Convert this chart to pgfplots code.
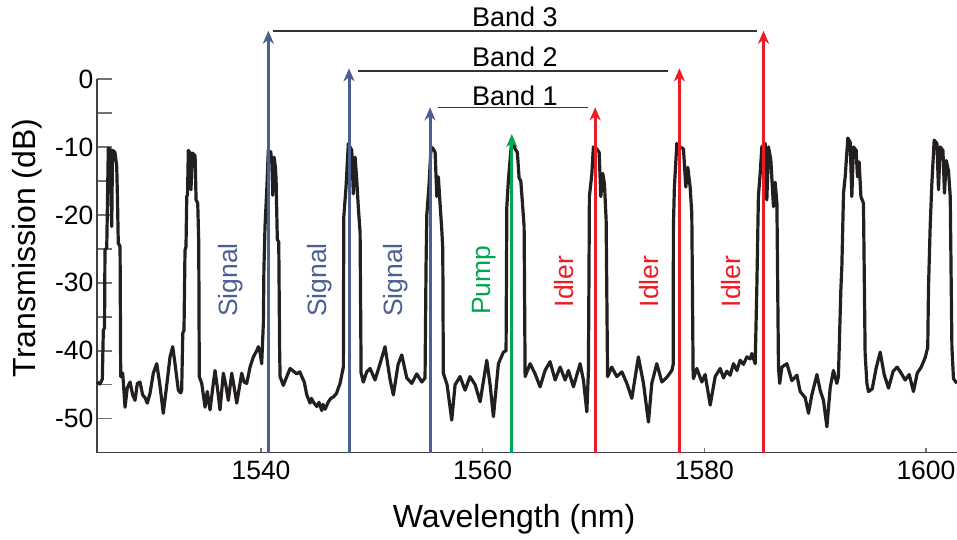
\documentclass[border=0pt]{standalone}
\usepackage{fontspec}
\setmainfont{Liberation Sans}
\usepackage{pgfplots}
\pgfplotsset{compat=1.18}
\usetikzlibrary{arrows.meta}
\definecolor{sigblue}{HTML}{4B6091}
\definecolor{pumpgreen}{HTML}{00A651}
\definecolor{idlerred}{HTML}{ED1C24}
\definecolor{trace}{HTML}{231F20}
\newcommand\tickfont{\fontsize{26.5}{30}\selectfont}
\newcommand\labfont{\fontsize{32}{36}\selectfont}
\begin{document}
\begin{tikzpicture}
\begin{axis}[
  scale only axis, width=860pt, height=373.7pt,
  xmin=1525.2, xmax=1602.8, ymin=-55, ymax=0,
  axis lines=left,
  axis line style={-, line width=1.6pt, draw=black!75},
  clip=false,
  xtick={1540,1560,1580,1600},
  ytick={-50,-40,...,0},
  minor ytick={-45,-35,...,-5},
  tick align=inside,
  major tick length=15pt, minor tick length=15pt,
  xtick style={/pgfplots/major tick length=5pt},
  tick style={line width=1.5pt, draw=black!55},
  ticklabel style={font=\tickfont},
  /pgf/number format/assume math mode=true,
  /pgf/number format/1000 sep={},
  xticklabel style={yshift=-5pt},
  xlabel={Wavelength (nm)}, ylabel={Transmission (dB)},
  every axis x label/.style={at={(axis description cs:0.485,-0.177)}, anchor=center, font=\labfont},
  every axis y label/.style={at={(axis description cs:-0.0814,0.548)}, rotate=90, anchor=center, font=\labfont},
]
% measured transmission trace
\addplot[trace, line width=3.2pt, line join=round] coordinates {
(1525.20,-44.6) (1525.45,-44.9) (1525.68,-44.2) (1525.77,-37.0) (1525.88,-36.6) (1525.92,-25.2) (1526.08,-24.8) (1526.22,-10.2) (1526.37,-10.3) (1526.45,-15.0) (1526.53,-21.7) (1526.60,-10.5) (1526.82,-10.8) (1526.98,-12.9) (1527.05,-17.8) (1527.12,-24.2) (1527.28,-24.6) (1527.34,-43.8)
(1527.52,-43.3) (1527.73,-48.3) (1527.93,-45.5) (1528.18,-44.6) (1528.42,-46.5) (1528.63,-47.3) (1528.84,-44.8) (1529.08,-44.6) (1529.32,-46.5) (1529.53,-46.9) (1529.74,-47.7) (1529.98,-46.3) (1530.28,-43.3) (1530.59,-41.9) (1530.89,-45.2) (1531.18,-49.2) (1531.49,-45.1) (1531.79,-40.9) (1532.03,-39.4) (1532.24,-41.9) (1532.54,-45.8) (1532.75,-46.2)
(1532.84,-45.8) (1532.94,-37.4) (1533.05,-37.0) (1533.14,-25.2) (1533.23,-24.7) (1533.30,-17.3) (1533.37,-17.0) (1533.44,-10.5) (1533.59,-10.9) (1533.68,-16.3) (1533.80,-10.9) (1534.05,-11.3) (1534.14,-17.8) (1534.29,-18.3) (1534.38,-24.0) (1534.43,-43.8)
(1534.65,-44.8) (1534.95,-48.3) (1535.15,-46.0) (1535.40,-48.7) (1535.64,-45.5) (1535.85,-42.9) (1536.09,-45.8) (1536.30,-48.7) (1536.60,-43.3) (1536.84,-45.2) (1537.05,-47.3) (1537.36,-43.3) (1537.56,-45.2) (1537.81,-47.7) (1538.26,-43.3) (1538.47,-44.6) (1538.71,-44.8) (1539.01,-42.4) (1539.31,-40.9) (1539.61,-40.0) (1539.76,-39.4) (1539.91,-40.2) (1540.06,-41.9) (1540.21,-36.0)
(1540.26,-28.1) (1540.36,-21.7) (1540.52,-16.3) (1540.66,-10.4) (1540.80,-11.0) (1540.88,-10.7) (1540.98,-12.5) (1541.06,-17.1) (1541.18,-11.5) (1541.30,-13.0) (1541.36,-14.9) (1541.47,-23.6) (1541.60,-24.0) (1541.68,-40.0) (1541.72,-43.8)
(1542.01,-45.1) (1542.62,-42.6) (1542.92,-43.0) (1543.22,-43.4) (1543.50,-43.1) (1543.68,-43.8) (1543.90,-44.6) (1544.13,-46.5) (1544.42,-47.7) (1544.55,-47.0) (1544.70,-47.5) (1545.03,-48.2) (1545.24,-47.6) (1545.48,-48.8) (1545.60,-47.9) (1545.78,-48.6) (1546.08,-47.5) (1546.30,-47.0) (1546.53,-46.8) (1546.80,-46.3) (1547.13,-44.8) (1547.43,-42.4)
(1547.45,-30.0) (1547.47,-20.3) (1547.67,-15.9) (1547.88,-9.5) (1548.03,-10.0) (1548.19,-10.5) (1548.33,-16.9) (1548.49,-11.5) (1548.64,-14.9) (1548.78,-18.9) (1548.94,-22.6) (1549.03,-43.3)
(1549.23,-44.6) (1549.54,-43.1) (1549.84,-42.6) (1550.29,-44.3) (1550.74,-41.9) (1551.19,-39.4) (1551.64,-44.2) (1551.94,-46.5) (1552.37,-42.0) (1552.70,-40.6) (1553.15,-44.0) (1553.60,-44.8) (1554.05,-43.4) (1554.51,-44.6) (1554.80,-44.0)
(1554.89,-27.6) (1554.96,-20.0) (1555.16,-15.6) (1555.34,-10.0) (1555.55,-10.3) (1555.71,-10.8) (1555.86,-17.3) (1556.00,-14.4) (1556.16,-18.5) (1556.31,-22.2) (1556.40,-25.0) (1556.45,-43.3)
(1556.79,-45.0) (1557.21,-50.2) (1557.51,-45.0) (1557.96,-43.8) (1558.41,-45.8) (1558.86,-43.8) (1559.32,-45.0) (1559.77,-47.5) (1560.37,-41.4) (1560.67,-45.0) (1560.97,-49.7) (1561.42,-41.9) (1561.87,-40.2) (1562.11,-40.0)
(1562.18,-18.8) (1562.32,-14.9) (1562.47,-12.0) (1562.63,-8.9) (1562.93,-10.3) (1563.13,-10.8) (1563.29,-14.6) (1563.44,-15.0) (1563.59,-18.3) (1563.74,-21.7) (1563.83,-43.8)
(1564.28,-41.9) (1564.73,-43.4) (1565.18,-45.3) (1565.63,-42.9) (1566.08,-41.6) (1566.54,-44.3) (1566.99,-42.4) (1567.44,-44.3) (1567.74,-42.9) (1568.19,-45.3) (1568.79,-41.9) (1569.09,-44.3) (1569.40,-49.0) (1569.54,-43.0)
(1569.60,-26.7) (1569.63,-17.3) (1569.85,-14.0) (1569.99,-10.0) (1570.30,-10.3) (1570.51,-10.8) (1570.66,-17.3) (1570.84,-13.9) (1570.99,-15.5) (1571.14,-20.7) (1571.27,-43.8)
(1571.65,-42.4) (1572.10,-43.8) (1572.56,-43.1) (1573.01,-44.8) (1573.46,-47.0) (1574.05,-40.9) (1574.51,-44.8) (1574.96,-50.5) (1575.26,-44.8) (1575.71,-41.9) (1576.17,-44.6) (1576.62,-43.9) (1577.07,-42.9) (1577.19,-42.0)
(1577.21,-21.7) (1577.30,-15.9) (1577.52,-9.5) (1577.82,-10.0) (1578.12,-10.3) (1578.33,-15.9) (1578.51,-13.0) (1578.72,-15.9) (1578.87,-19.8) (1578.99,-43.5)
(1579.02,-44.1) (1579.32,-42.6) (1579.78,-44.6) (1580.07,-43.5) (1580.53,-48.0) (1580.98,-43.8) (1581.43,-42.6) (1581.73,-44.0) (1582.03,-43.0) (1582.33,-43.6) (1582.63,-41.9) (1582.94,-42.9) (1583.23,-41.4) (1583.53,-42.0) (1583.84,-40.9) (1584.14,-41.2) (1584.29,-40.4) (1584.59,-41.9)
(1584.74,-30.6) (1584.88,-17.3) (1585.04,-13.9) (1585.19,-10.0) (1585.49,-9.5) (1585.64,-17.8) (1585.79,-10.0) (1586.00,-11.9) (1586.24,-18.8) (1586.39,-15.2) (1586.55,-18.3) (1586.69,-42.4)
(1586.80,-44.8) (1587.00,-42.4) (1587.45,-41.9) (1587.90,-44.4) (1588.35,-43.6) (1588.65,-46.0) (1589.10,-46.9) (1589.40,-49.2) (1589.70,-46.5) (1590.16,-43.5) (1590.45,-45.8) (1590.75,-47.3) (1591.06,-51.2) (1591.36,-45.4) (1591.65,-42.9) (1591.96,-44.8) (1592.10,-43.8) (1592.32,-31.0)
(1592.41,-27.6) (1592.56,-16.8) (1592.71,-14.4) (1592.95,-8.7) (1593.16,-9.3) (1593.31,-17.3) (1593.46,-10.0) (1593.70,-10.5) (1593.82,-14.4) (1593.97,-12.2) (1594.13,-17.3) (1594.36,-18.3) (1594.51,-40.4) (1594.67,-44.8)
(1594.81,-46.0) (1595.15,-45.6) (1595.51,-42.5) (1595.87,-40.2) (1596.23,-43.5) (1596.62,-45.5) (1597.04,-43.0) (1597.40,-42.4) (1597.76,-43.3) (1598.12,-44.3) (1598.49,-43.5) (1598.87,-46.0) (1599.21,-43.3) (1599.57,-42.4) (1599.93,-41.0) (1600.16,-39.5)
(1600.23,-30.6) (1600.38,-21.7) (1600.53,-15.4) (1600.74,-9.0) (1600.99,-9.5) (1601.13,-16.3) (1601.28,-10.0) (1601.53,-10.5) (1601.67,-16.8) (1601.83,-12.0) (1602.03,-13.5) (1602.19,-17.3) (1602.34,-39.4) (1602.48,-44.1) (1602.79,-44.8)
};
% band brackets
\addplot[black!80, line width=1.3pt] coordinates {(1541.08,7.07) (1584.74,7.07)};
\addplot[black!80, line width=1.3pt] coordinates {(1548.76,1.18) (1576.73,1.18)};
\addplot[black!80, line width=1.3pt] coordinates {(1555.98,-4.17) (1569.51,-4.17)};
% signal / pump / idler arrows
\pgfplotsset{arr/.style={line width=3pt, -{Stealth[length=13pt,width=11pt,inset=4pt]}}}
\addplot[sigblue, arr] coordinates {(1540.66,-55) (1540.66,7.1)};
\addplot[sigblue, arr] coordinates {(1547.94,-55) (1547.94,1.57)};
\addplot[sigblue, arr] coordinates {(1555.25,-55) (1555.25,-4.17)};
\addplot[pumpgreen, arr] coordinates {(1562.63,-55) (1562.63,-8.1)};
\addplot[idlerred, arr] coordinates {(1570.15,-55) (1570.15,-4.17)};
\addplot[idlerred, arr] coordinates {(1577.75,-55) (1577.75,1.57)};
\addplot[idlerred, arr] coordinates {(1585.34,-55) (1585.34,7.1)};
% labels
\node[anchor=base, font=\fontsize{27}{30}\selectfont] at (axis cs:1562.9,7.70) {Band 3};
\node[anchor=base, font=\fontsize{27}{30}\selectfont] at (axis cs:1562.9,1.91) {Band 2};
\node[anchor=base, font=\fontsize{27}{30}\selectfont] at (axis cs:1562.9,-3.83) {Band 1};
\node[rotate=90, anchor=base, text=sigblue, font=\tickfont] at (axis cs:1537.84,-29.6) {Signal};
\node[rotate=90, anchor=base, text=sigblue, font=\tickfont] at (axis cs:1545.87,-29.6) {Signal};
\node[rotate=90, anchor=base, text=sigblue, font=\tickfont] at (axis cs:1552.73,-29.6) {Signal};
\node[rotate=90, anchor=base, text=pumpgreen, font=\tickfont] at (axis cs:1560.67,-29.6) {Pump};
\node[rotate=90, anchor=base, text=idlerred, font=\tickfont] at (axis cs:1568.16,-29.8) {Idler};
\node[rotate=90, anchor=base, text=idlerred, font=\tickfont] at (axis cs:1575.83,-29.8) {Idler};
\node[rotate=90, anchor=base, text=idlerred, font=\tickfont] at (axis cs:1583.23,-29.8) {Idler};
\coordinate (bbsw) at (rel axis cs:-0.1128,-0.2336);
\coordinate (bbne) at (rel axis cs:1,1.2114);
\end{axis}
\pgfresetboundingbox
\path[use as bounding box] (bbsw) rectangle (bbne);
\end{tikzpicture}
\end{document}
